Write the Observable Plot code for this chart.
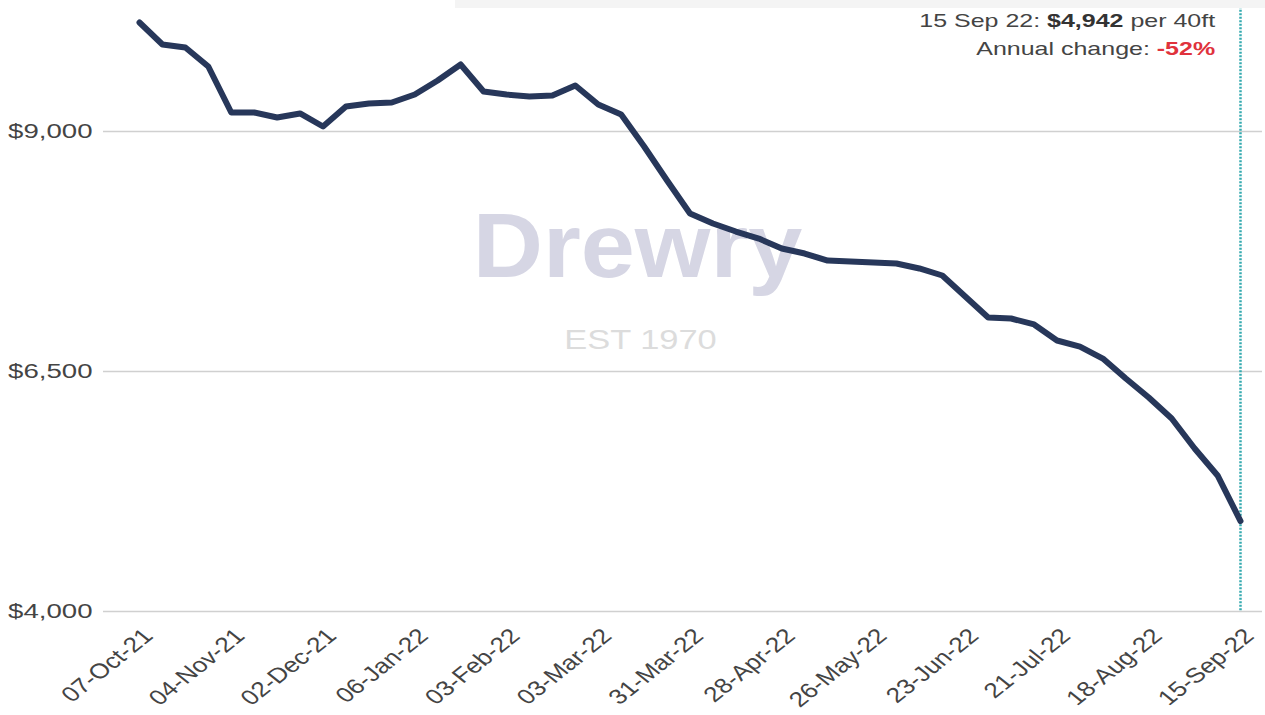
<!DOCTYPE html>
<html>
<head>
<meta charset="utf-8">
<script src="https://cdn.jsdelivr.net/npm/d3@7"></script>
<script src="https://cdn.jsdelivr.net/npm/@observablehq/plot@0.6"></script>
<style>
  html, body { margin: 0; padding: 0; background: #fff; }
  #wrap { position: relative; width: 1265px; height: 715px; overflow: hidden; font-family: "Liberation Sans", Arial, sans-serif; }
  #topband { position: absolute; left: 455px; top: 0; width: 810px; height: 8px; background: #f4f4f4; }
  #note { position: absolute; right: 50px; top: 7px; text-align: right; font-size: 18.5px; line-height: 28px; color: #444;
          transform: scaleX(1.35); transform-origin: right center; }
  #note b { color: #333; }
  #note .neg { color: #e0323c; font-weight: bold; }
</style>
</head>
<body>
<div id="wrap">
  <div id="chart"></div>
  <div id="topband"></div>
  <div id="note">15 Sep 22: <b>$4,942</b> per 40ft<br>Annual change: <span class="neg">-52%</span></div>
</div>
<script>
const dates = ["07-Oct-21","14-Oct-21","21-Oct-21","28-Oct-21","04-Nov-21","11-Nov-21","18-Nov-21","25-Nov-21",
  "02-Dec-21","09-Dec-21","16-Dec-21","23-Dec-21","06-Jan-22","13-Jan-22","20-Jan-22","27-Jan-22",
  "03-Feb-22","10-Feb-22","17-Feb-22","24-Feb-22","03-Mar-22","10-Mar-22","17-Mar-22","24-Mar-22",
  "31-Mar-22","07-Apr-22","14-Apr-22","21-Apr-22","28-Apr-22","05-May-22","12-May-22","19-May-22",
  "26-May-22","02-Jun-22","09-Jun-22","16-Jun-22","23-Jun-22","30-Jun-22","07-Jul-22","14-Jul-22",
  "21-Jul-22","28-Jul-22","04-Aug-22","11-Aug-22","18-Aug-22","25-Aug-22","01-Sep-22","08-Sep-22","15-Sep-22"];
const rates = [10135,9906,9875,9677,9198,9198,9146,9188,
  9052,9260,9292,9302,9385,9531,9698,9417,
  9385,9365,9375,9479,9281,9177,8844,8490,
  8146,8042,7958,7885,7781,7729,7656,7646,
  7635,7625,7573,7500,7281,7063,7052,6990,
  6823,6760,6635,6427,6229,6010,5698,5417,4942];
const tickLabels = ["07-Oct-21","04-Nov-21","02-Dec-21","06-Jan-22","03-Feb-22","03-Mar-22","31-Mar-22",
  "28-Apr-22","26-May-22","23-Jun-22","21-Jul-22","18-Aug-22","15-Sep-22"];
const yTicks = [4000, 6500, 9000];
const latestDate = ["15-Sep-22"];

const data = dates.map((d, i) => ({date: d, rate: rates[i]}));
const fmt = d3.format("$,");

const chart = Plot.plot({
  width: 1265,
  height: 715,
  marginLeft: 103,
  marginRight: 3,
  marginTop: 8,
  marginBottom: 104,
  style: {fontFamily: "Liberation Sans, Arial, sans-serif", background: "transparent"},
  x: {type: "point", domain: dates, range: [139, 1240], padding: 0},
  y: {domain: [4000, 9000], range: [611, 131]},
  marks: [
    Plot.ruleY(yTicks, {stroke: "#d0d0d0", strokeWidth: 1.3}),
    Plot.text(["Drewry"], {frameAnchor: "top-left", dx: 534, dy: 240, lineAnchor: "middle", fontSize: 90, fontWeight: "bold", fill: "#d6d6e4", textAnchor: "middle"}),
    Plot.text(["EST 1970"], {frameAnchor: "top-left", dx: 537, dy: 332, lineAnchor: "middle", fontSize: 28, fill: "#dcdcdc", textAnchor: "middle"}),
    Plot.ruleX(latestDate, {x: d => d, y1: 10300, y2: 4000, stroke: "#35aab0", strokeWidth: 2.5, strokeDasharray: "2,1.5"}),
    Plot.line(data, {x: "date", y: "rate", stroke: "#27375a", strokeWidth: 6, strokeLinejoin: "round", strokeLinecap: "round"}),
    Plot.axisY({ticks: yTicks, tickFormat: fmt, tickSize: 0, tickPadding: 11, fontSize: 20, color: "#444", label: null}),
    Plot.axisX({ticks: tickLabels, tickSize: 0, tickRotate: -45, fontSize: 21, color: "#444", label: null, tickPadding: 21, dx: 9})
  ]
});

// horizontal stretch of text about its anchor, to match the reference's wide lettering
function stretchEl(el, s) {
  const t = el.getAttribute("transform") || "";
  const m = /translate\(\s*([-\d.e]+)[ ,]+([-\d.e]+)\s*\)/.exec(t);
  let ax, ay;
  if (m) { ax = +m[1]; ay = +m[2]; }
  else { ax = +(el.getAttribute("x") || 0); ay = +(el.getAttribute("y") || 0); }
  el.setAttribute("transform", `translate(${ax},${ay}) scale(${s},1) translate(${-ax},${-ay}) ${t}`);
}
function stretch(sel, s) { d3.select(chart).selectAll(sel).each(function() { stretchEl(this, s); }); }
function stretchText(content, s) {
  d3.select(chart).selectAll("text").filter(function() { return this.textContent === content; }).each(function() { stretchEl(this, s); });
}
stretch("g[aria-label='y-axis tick label'] text", 1.38);
stretch("g[aria-label='x-axis tick label'] text", 1.25);
stretchText("Drewry", 1.08);
stretchText("EST 1970", 1.23);

chart.style.position = "absolute";
chart.style.left = "0";
chart.style.top = "0";
document.getElementById("chart").appendChild(chart);
</script>
</body>
</html>
